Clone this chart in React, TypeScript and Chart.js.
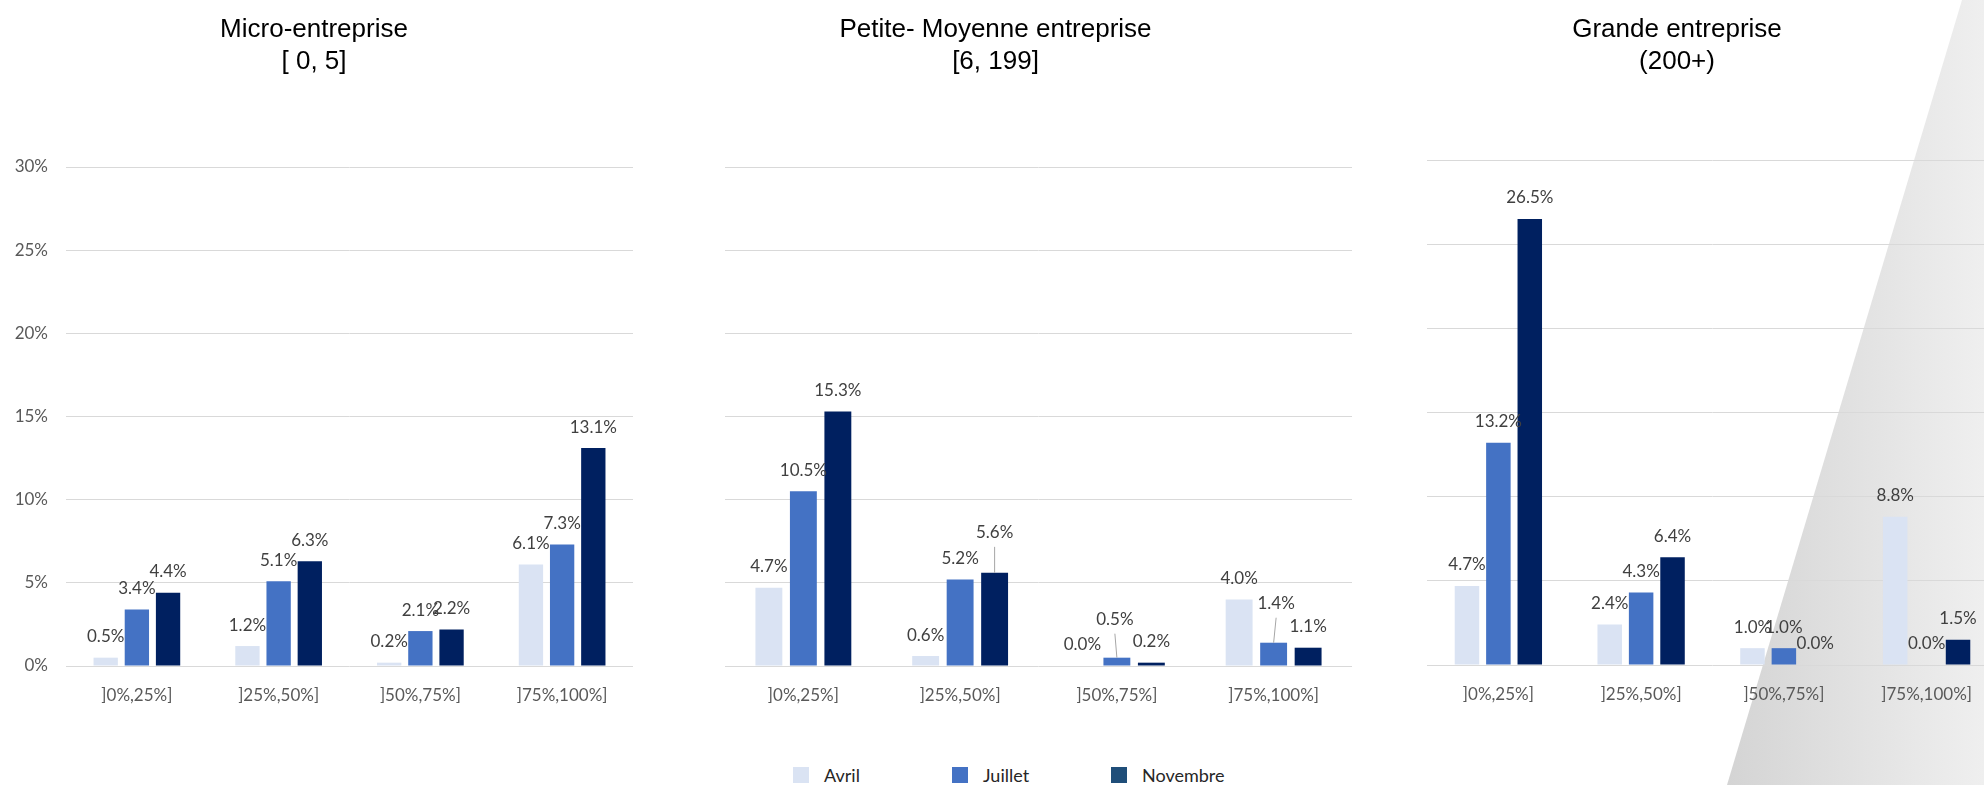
import React, { useEffect, useRef } from "react";
import { Chart, registerables } from "chart.js";

Chart.register(...registerables);

// ---------- data ----------
const CATEGORIES = ["]0%,25%]", "]25%,50%]", "]50%,75%]", "]75%,100%]"];
const SERIES_NAMES = ["Avril", "Juillet", "Novembre"];

const MICRO_AVRIL = [0.5, 1.2, 0.2, 6.1];
const MICRO_JUILLET = [3.4, 5.1, 2.1, 7.3];
const MICRO_NOVEMBRE = [4.4, 6.3, 2.2, 13.1];

const PME_AVRIL = [4.7, 0.6, 0.0, 4.0];
const PME_JUILLET = [10.5, 5.2, 0.5, 1.4];
const PME_NOVEMBRE = [15.3, 5.6, 0.2, 1.1];

const GRANDE_AVRIL = [4.7, 2.4, 1.0, 8.8];
const GRANDE_JUILLET = [13.2, 4.3, 1.0, 0.0];
const GRANDE_NOVEMBRE = [26.5, 6.4, 0.0, 1.5];

const Y_MIN = 0;
const Y_MAX = 30;
const Y_STEP = 5;

const PANEL_TITLES = [
  ["Micro-entreprise", "[ 0, 5]"],
  ["Petite- Moyenne entreprise", "[6, 199]"],
  ["Grande entreprise", "(200+)"],
];

const PANEL_SERIES = [
  [MICRO_AVRIL, MICRO_JUILLET, MICRO_NOVEMBRE],
  [PME_AVRIL, PME_JUILLET, PME_NOVEMBRE],
  [GRANDE_AVRIL, GRANDE_JUILLET, GRANDE_NOVEMBRE],
];

// ---------- styles / layout ----------
const BAR_COLORS = ["#DAE3F3", "#4472C4", "#002060"];
const LEGEND_COLORS = ["#DAE3F3", "#4472C4", "#1F4E79"];
const FONT = "Lato";
const TITLE_FONT = "'Liberation Sans', Arial, sans-serif";

type PanelLayout = {
  left: number;
  width: number;
  top: number;
  yWidth: number;
  padRight: number;
  bottom: number;
  titleX: number;
  showY: boolean;
};

const CANVAS_H = 720;
const X_AXIS_H = 40;

const LAYOUTS: PanelLayout[] = [
  { left: 0, width: 660, top: 167, yWidth: 66, padRight: 27, bottom: 666, titleX: 314, showY: true },
  { left: 700, width: 680, top: 167, yWidth: 25, padRight: 28, bottom: 666, titleX: 995.5, showY: false },
  { left: 1400, width: 620, top: 160, yWidth: 27, padRight: 22, bottom: 665, titleX: 1677, showY: false },
];

// manually displaced data labels (with leader lines)
const LABEL_NUDGES = [
  { panel: 1, series: 2, index: 1, dx: 0, dy: 19 },
  { panel: 1, series: 1, index: 2, dx: -2, dy: 17 },
  { panel: 1, series: 1, index: 3, dx: 2.5, dy: 18 },
];

function makeTitlePlugin(panel: number) {
  return {
    id: "panelTitle" + panel,
    afterDraw(chart: any) {
      const ctx = chart.ctx;
      const L = LAYOUTS[panel];
      const lines = PANEL_TITLES[panel];
      ctx.save();
      ctx.fillStyle = "#000000";
      ctx.font = `26px ${TITLE_FONT}`;
      ctx.textAlign = "center";
      ctx.textBaseline = "alphabetic";
      ctx.fillText(lines[0], L.titleX - L.left, 37);
      ctx.fillText(lines[1], L.titleX - L.left, 69);
      ctx.restore();
    },
  };
}

function makeLabelPlugin(panel: number) {
  return {
    id: "barLabels" + panel,
    afterDatasetsDraw(chart: any) {
      const ctx = chart.ctx;
      ctx.save();
      ctx.font = `17px ${FONT}`;
      ctx.textAlign = "center";
      ctx.textBaseline = "middle";
      chart.data.datasets.forEach((ds: any, di: number) => {
        const meta = chart.getDatasetMeta(di);
        meta.data.forEach((el: any, i: number) => {
          const v = ds.data[i] as number;
          const n = LABEL_NUDGES.find((q) => q.panel === panel && q.series === di && q.index === i);
          const dx = n ? n.dx : 0;
          const dy = n ? n.dy : 0;
          const lx = el.x + dx;
          const ly = el.y - 21 - dy;
          if (n) {
            ctx.strokeStyle = "#a6a6a6";
            ctx.lineWidth = 1;
            ctx.beginPath();
            ctx.moveTo(lx, ly + 14);
            ctx.lineTo(el.x, el.y);
            ctx.stroke();
          }
          ctx.fillStyle = "#404040";
          ctx.fillText(v.toFixed(1) + "%", lx, ly);
        });
      });
      ctx.restore();
    },
  };
}

function Panel({ panel }: { panel: number }) {
  const ref = useRef<HTMLCanvasElement | null>(null);
  const L = LAYOUTS[panel];
  useEffect(() => {
    if (!ref.current) return;
    const chart = new Chart(ref.current, {
      type: "bar",
      data: {
        labels: CATEGORIES,
        datasets: SERIES_NAMES.map((name, k) => ({
          label: name,
          data: PANEL_SERIES[panel][k],
          backgroundColor: BAR_COLORS[k],
          borderWidth: 0,
          barPercentage: 0.78,
          categoryPercentage: 0.66,
        })),
      },
      options: {
        animation: false,
        responsive: false,
        devicePixelRatio: 1,
        layout: {
          padding: { top: L.top, left: 0, right: L.padRight, bottom: CANVAS_H - L.bottom - X_AXIS_H },
        },
        plugins: {
          legend: { display: false },
          tooltip: { enabled: false },
          title: { display: false },
        },
        scales: {
          x: {
            grid: { display: false },
            border: { display: false },
            ticks: {
              color: "#595959",
              font: { family: FONT, size: 17 },
              padding: 11,
              maxRotation: 0,
              autoSkip: false,
            },
            afterFit: (s: any) => {
              s.height = X_AXIS_H;
            },
          },
          y: {
            min: Y_MIN,
            max: Y_MAX,
            ticks: {
              stepSize: Y_STEP,
              display: L.showY,
              padding: 18,
              color: "#595959",
              font: { family: FONT, size: 17 },
              callback: (v: any) => v + "%",
            },
            grid: { color: "#d9d9d9", lineWidth: 1, drawTicks: false },
            border: { display: false },
            afterFit: (s: any) => {
              s.width = L.yWidth;
            },
          },
        },
      },
      plugins: [makeTitlePlugin(panel), makeLabelPlugin(panel)],
    } as any);
    return () => chart.destroy();
  }, [panel]);
  return (
    <canvas
      ref={ref}
      width={L.width}
      height={CANVAS_H}
      style={{ position: "absolute", left: L.left, top: 0, width: L.width, height: CANVAS_H }}
    />
  );
}

export default function App() {
  return (
    <div
      style={{
        position: "fixed",
        left: 0,
        top: 0,
        width: 1984,
        height: 785,
        overflow: "hidden",
        background: "#ffffff",
      }}
    >
      <div
        style={{
          position: "absolute",
          left: 1727,
          top: 0,
          width: 257,
          height: 785,
          clipPath: "polygon(235px 0px, 257px 0px, 257px 785px, 0px 785px)",
          background: "linear-gradient(to right, #d4d4d4, #efefef)",
        }}
      />
      <Panel panel={0} />
      <Panel panel={1} />
      <Panel panel={2} />
      <div
        style={{
          position: "absolute",
          left: 793,
          top: 767,
          display: "flex",
          alignItems: "center",
          fontFamily: FONT,
          fontSize: 18,
          color: "#262626",
          lineHeight: "16px",
        }}
      >
        {SERIES_NAMES.map((name, k) => (
          <div key={name} style={{ width: 159, display: "flex", alignItems: "center" }}>
            <span style={{ width: 16, height: 16, background: LEGEND_COLORS[k], display: "inline-block" }} />
            <span style={{ marginLeft: 15, whiteSpace: "nowrap" }}>{name}</span>
          </div>
        ))}
      </div>
    </div>
  );
}
